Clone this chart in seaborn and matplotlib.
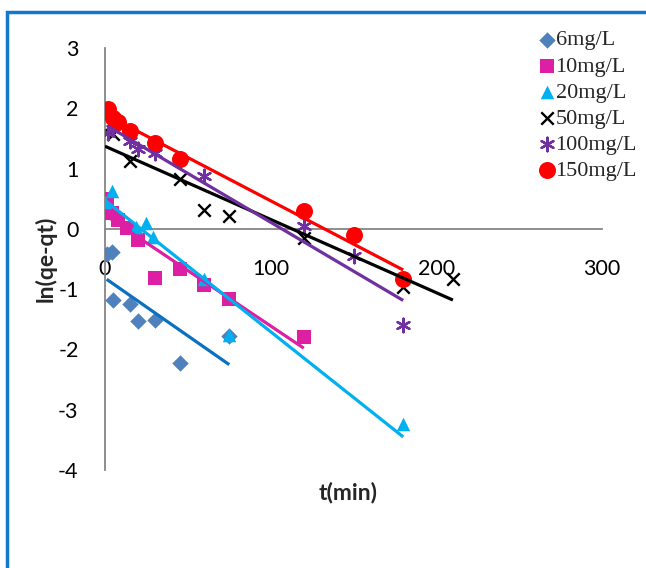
import numpy as np
import pandas as pd
import matplotlib
matplotlib.use('Agg')
import matplotlib.pyplot as plt
from matplotlib.patches import Rectangle
import seaborn as sns

# values: t (min) and ln(qe-qt)
t_6 = [1, 4, 5, 15, 20, 30, 45, 75]
y_6 = [-0.42, -0.38, -1.18, -1.24, -1.53, -1.52, -2.23, -1.77]

t_10 = [1, 4, 8, 13, 20, 30, 45, 60, 75, 120]
y_10 = [0.49, 0.27, 0.15, 0.02, -0.18, -0.82, -0.66, -0.93, -1.17, -1.80]

t_20 = [0, 4, 19, 25, 29, 60, 75, 180]
y_20 = [0.45, 0.62, 0.03, 0.10, -0.13, -0.84, -1.76, -3.23]

t_50 = [0, 5, 15, 45, 60, 75, 120, 180, 210]
y_50 = [1.62, 1.58, 1.12, 0.82, 0.31, 0.21, -0.15, -0.97, -0.83]

t_100 = [2, 5, 15, 20, 30, 60, 120, 150, 180]
y_100 = [1.59, 1.65, 1.45, 1.32, 1.26, 0.87, 0.05, -0.45, -1.60]

t_150 = [2, 5, 8, 15, 30, 45, 120, 150, 180]
y_150 = [1.98, 1.84, 1.77, 1.62, 1.43, 1.16, 0.29, -0.11, -0.84]

labels = ["6mg/L", "10mg/L", "20mg/L", "50mg/L", "100mg/L", "150mg/L"]
x_ticks = [0, 100, 200, 300]
y_ticks = [-4, -3, -2, -1, 0, 1, 2, 3]

series = [(t_6, y_6), (t_10, y_10), (t_20, y_20), (t_50, y_50), (t_100, y_100), (t_150, y_150)]
marker_colors = ["#4F81BD", "#DD1FA3", "#00B0F0", "#000000", "#7030A0", "#FF0000"]
line_colors = ["#0A70C0", "#DD1FA3", "#00B0F0", "#000000", "#7030A0", "#FF0000"]
markers = ["D", "s", "^", "x", (6, 2, 0), "o"]
sizes = [70, 95, 95, 80, 95, 150]

sns.set_style("white")
plt.rcParams['font.family'] = ['Lato', 'DejaVu Sans']

fig = plt.figure(figsize=(6.46, 5.68), dpi=100)
ax = fig.add_axes([105 / 646, 98 / 568, 497 / 646, 422 / 568])

for (t, y), lab, mc, mk, sz in zip(series, labels, marker_colors, markers, sizes):
    df = pd.DataFrame({"t": t, "y": y})
    lw = 1.7 if mk in ("x", (6, 2, 0)) else 0
    sns.scatterplot(data=df, x="t", y="y", ax=ax, color=mc, marker=mk, s=sz,
                    linewidth=lw, edgecolor=mc if lw == 0 else None, label=lab, zorder=3)

# linear trendlines (least squares, like the spreadsheet fit)
for (t, y), lc in zip(series, line_colors):
    slope, icpt = np.polyfit(t, y, 1)
    xs = np.array([min(t), max(t)])
    ax.plot(xs, icpt + slope * xs, color=lc, lw=2.3, zorder=4, solid_capstyle='butt')

ax.set_xlim(0, 300)
ax.set_ylim(-4, 3)
ax.set_xticks(x_ticks)
ax.set_yticks(y_ticks)
ax.set_yticklabels([str(v) for v in y_ticks])

for side in ("top", "right"):
    ax.spines[side].set_visible(False)
ax.spines['left'].set_position(('data', 0))
ax.spines['bottom'].set_position(('data', 0))
for side in ("left", "bottom"):
    ax.spines[side].set_color("#868686")
    ax.spines[side].set_linewidth(1.3)
ax.tick_params(axis='both', direction='out', length=5, width=1.3, color="#868686",
               labelsize=15.5, labelcolor="black")
ax.tick_params(axis='x', pad=17)
ax.tick_params(axis='y', pad=14)

ax.set_xlabel("t(min)", fontsize=16.5, fontweight='bold')
ax.set_ylabel("ln(qe-qt)", fontsize=16.5, fontweight='bold')
ax.xaxis.set_label_coords(0.489, -0.028)
ax.yaxis.set_label_coords(-0.098, 0.5)

leg_handles, leg_labels = ax.get_legend_handles_labels()
ax.legend(leg_handles, leg_labels, loc='upper left', bbox_to_anchor=(530 / 646, 1 - 21 / 568),
          bbox_transform=fig.transFigure, frameon=False, handlelength=0.7, handletextpad=0.05,
          labelspacing=0.25, borderaxespad=0, prop={'family': 'Liberation Serif', 'size': 16})

# blue outer frame of the figure
fig.patches.append(Rectangle((7 / 646, -0.1), 1.2, 1.1 - 12 / 568, transform=fig.transFigure,
                             fill=False, edgecolor="#1577CC", linewidth=2.5))

fig.savefig("out.png", dpi=100)
plt.close(fig)
